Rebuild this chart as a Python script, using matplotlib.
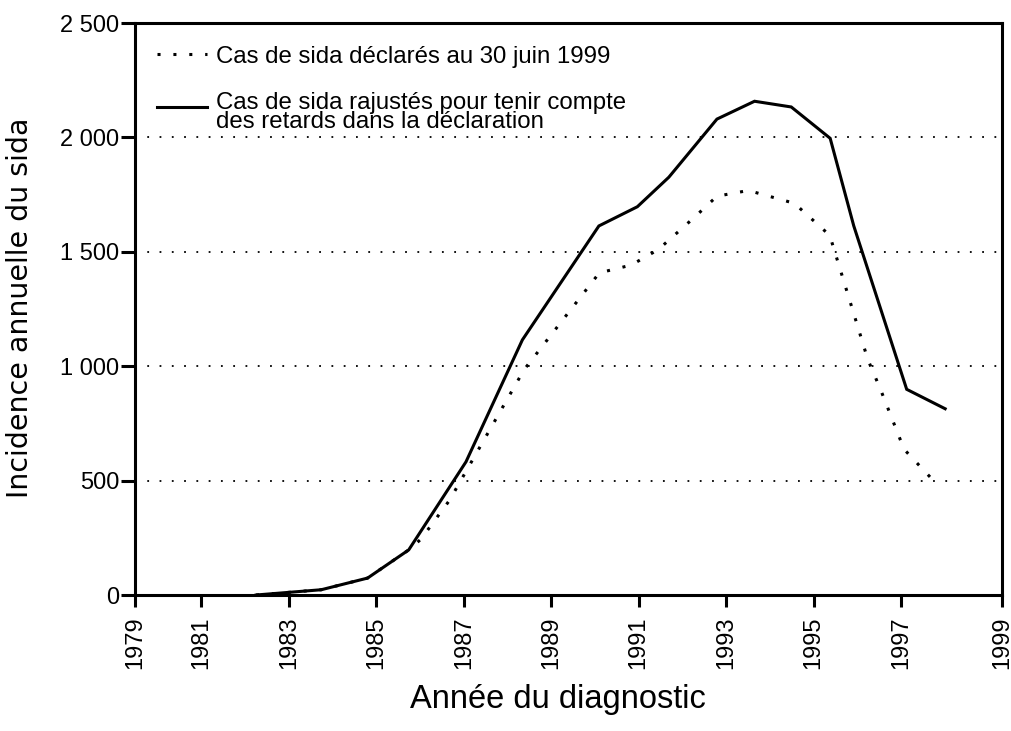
import matplotlib
matplotlib.use("Agg")
import matplotlib.pyplot as plt

plt.rcParams['font.family'] = ['Liberation Sans', 'DejaVu Sans']

# Data
years_adjusted = [1982.25, 1983.74, 1984.80, 1985.74, 1987.05, 1988.34, 1990.09, 1990.97,
                  1991.69, 1992.79, 1993.65, 1994.49, 1995.38, 1995.92, 1997.13, 1998.01]
cases_adjusted = [0, 23, 74, 197, 582, 1115, 1613, 1697, 1826, 2080, 2158, 2133, 1996,
                  1613, 899, 814]

years_reported = [1982.25, 1983.74, 1984.80, 1985.74, 1986.02, 1986.67, 1988.38, 1990.10,
                  1990.83, 1991.45, 1992.27, 1992.79, 1993.51, 1994.56, 1995.37, 1996.24,
                  1996.53, 1997.07, 1997.83]
cases_reported = [0, 23, 74, 197, 244, 413, 985, 1408, 1442, 1510, 1650, 1743, 1768, 1712,
                  1572, 1030, 899, 637, 482]

x_start, x_end = 1979.48, 1999.31
x_tick_pos = [x_start, 1981, 1983, 1985, 1987, 1989, 1991, 1993, 1995, 1997, x_end]
x_tick_labels = ['1979', '1981', '1983', '1985', '1987', '1989', '1991', '1993', '1995',
                 '1997', '1999']
y_ticks = [0, 500, 1000, 1500, 2000, 2500]
y_tick_labels = ['0', '500', '1 000', '1 500', '2 000', '2 500']
grid_levels = [500, 1000, 1500, 2000]

label_reported = 'Cas de sida déclarés au 30 juin 1999'
label_adjusted = 'Cas de sida rajustés pour tenir compte\ndes retards dans la déclaration'

fig = plt.figure(figsize=(10.12, 7.31), dpi=100)
ax = fig.add_axes([135/1012, 1 - 595/731, (1002-135)/1012, (595-23)/731])

for lvl in grid_levels:
    ax.axhline(lvl, color='black', lw=1.3, linestyle=(0, (1, 5.8)), zorder=1)

ax.plot(years_reported, cases_reported, color='black', lw=2.2,
        linestyle=(0, (1, 4.2)), dash_capstyle='butt', label=label_reported, zorder=3)
ax.plot(years_adjusted, cases_adjusted, color='black', lw=2.2,
        solid_joinstyle='miter', label=label_adjusted, zorder=4)

ax.set_xlim(x_start, x_end)
ax.set_ylim(0, 2500)
ax.set_xticks(x_tick_pos)
ax.set_xticklabels(x_tick_labels, rotation=90, fontsize=17)
ax.set_yticks(y_ticks)
ax.set_yticklabels(y_tick_labels, fontsize=17)

for s in ax.spines.values():
    s.set_linewidth(2.2)
ax.tick_params(axis='x', direction='out', length=8.6, width=2.2, pad=7)
ax.tick_params(axis='y', direction='out', length=10, width=2.2, pad=1.5)

ax.set_xlabel('Année du diagnostic', fontsize=23.5)
ax.xaxis.set_label_coords(0.488, -0.155)
ax.set_ylabel('Incidence annuelle du sida', fontsize=20.5,
              family=['DejaVu Sans'])
ax.yaxis.set_label_coords(-0.117, 0.502)

leg = ax.legend(loc='upper left', bbox_to_anchor=(0.025, 0.96), frameon=False,
                fontsize=17.3, handlelength=2.1, handletextpad=0.35, borderpad=0,
                borderaxespad=0, labelspacing=1.0)
for t in leg.get_texts():
    t.set_linespacing(0.85)
h = leg.legend_handles[1]
h.set_ydata([v + 4 for v in h.get_ydata()])

fig.savefig('out.png', dpi=100)
